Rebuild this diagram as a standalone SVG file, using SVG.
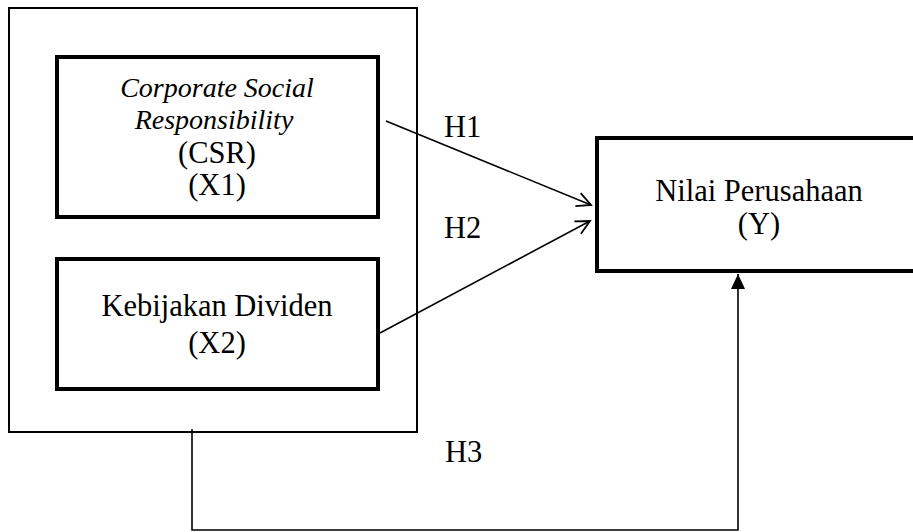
<svg xmlns="http://www.w3.org/2000/svg" width="913" height="532" viewBox="0 0 913 532">
<style>
text{font-family:"Liberation Serif","Times New Roman",serif;font-size:30.5px;fill:#000;text-anchor:middle}
.it{font-style:italic;font-size:28px}
.lbl{text-anchor:start}
.box{fill:#fff;stroke:#000;stroke-width:4}
.outer{fill:none;stroke:#000;stroke-width:2}
.con{fill:none;stroke:#000;stroke-width:1.6}
</style>
<defs>
<marker id="open" markerUnits="userSpaceOnUse" markerWidth="20" markerHeight="20" viewBox="-16 -10 20 20" refX="0" refY="0" orient="auto">
<path d="M-14,-7 L0,0 L-14,7" fill="none" stroke="#000" stroke-width="1.8"/>
</marker>
<marker id="filled" markerUnits="userSpaceOnUse" markerWidth="20" markerHeight="20" viewBox="-16 -10 20 20" refX="0" refY="0" orient="auto">
<path d="M-15,-7 L0,0 L-15,7 Z" fill="#000"/>
</marker>
</defs>
<rect width="913" height="532" fill="#fff"/>
<g id="group-x">
<rect class="outer" x="9" y="8" width="408" height="424"/>
</g>
<g id="csr">
<rect class="box" x="57" y="57" width="321" height="160"/>
<text class="it" x="217" y="97">Corporate Social</text>
<text class="it" x="214" y="129">Responsibility</text>
<text x="217" y="163">(CSR)</text>
<text x="217" y="195">(X1)</text>
</g>
<g id="dividen">
<rect class="box" x="57" y="259" width="321" height="130"/>
<text x="217" y="316">Kebijakan Dividen</text>
<text x="217" y="353">(X2)</text>
</g>
<g id="nilai">
<rect class="box" x="597" y="138" width="330" height="133"/>
<text x="759" y="201">Nilai Perusahaan</text>
<text x="759" y="234">(Y)</text>
</g>
<g id="connectors">
<line class="con" x1="386" y1="121" x2="591" y2="205" marker-end="url(#open)"/>
<line class="con" x1="380" y1="333" x2="590" y2="221" marker-end="url(#open)"/>
<polyline class="con" points="192,429 192,530 738,530 738,274" marker-end="url(#filled)"/>
<text class="lbl" x="444" y="137">H1</text>
<text class="lbl" x="444" y="238">H2</text>
<text class="lbl" x="445" y="462">H3</text>
</g>
</svg>
